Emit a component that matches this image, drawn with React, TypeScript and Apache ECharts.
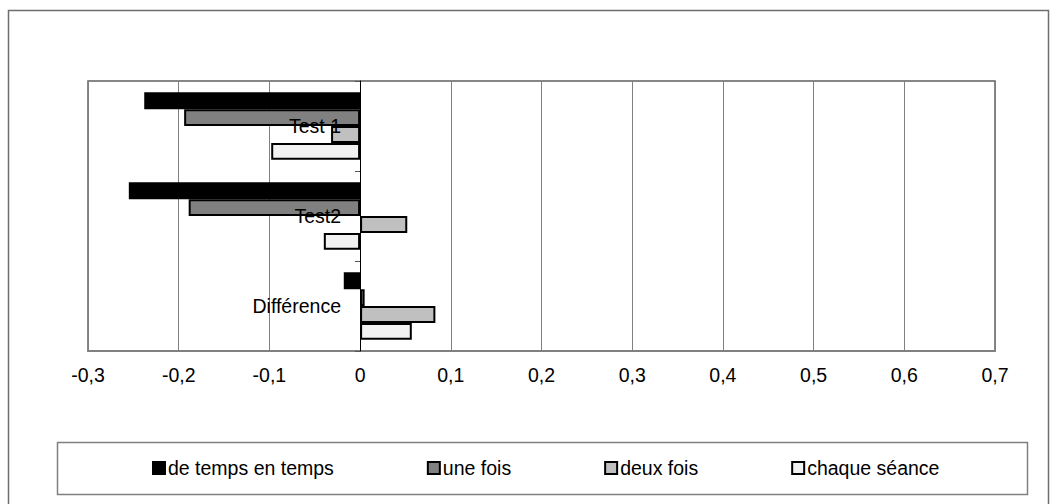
import React, { useEffect, useRef } from "react";
import * as echarts from "echarts";

const categories = ["Test 1", "Test2", "Différence"];
const seriesNames = ["de temps en temps", "une fois", "deux fois", "chaque séance"];
const deTempsEnTemps = [-0.238, -0.255, -0.018];
const uneFois = [-0.194, -0.189, 0.005];
const deuxFois = [-0.032, 0.052, 0.083];
const chaqueSeance = [-0.098, -0.04, 0.057];
const seriesValues = [deTempsEnTemps, uneFois, deuxFois, chaqueSeance];
const seriesColors = ["#000000", "#808080", "#c0c0c0", "#f2f2f2"];

const FONT = "'Liberation Sans', Arial, sans-serif";

export default function App() {
  const ref = useRef<HTMLDivElement>(null);
  useEffect(() => {
    if (!ref.current) return;
    const chart = echarts.init(ref.current, undefined, { renderer: "svg" });
    chart.setOption({
      animation: false,
      backgroundColor: "#ffffff",
      textStyle: { fontFamily: FONT },
      graphic: [
        {
          type: "rect",
          shape: { x: 8.5, y: 10.5, width: 1040, height: 520 },
          style: { fill: "none", stroke: "#6e6e6e", lineWidth: 1.5 },
          silent: true,
        },
        {
          type: "rect",
          shape: { x: 57.5, y: 442.5, width: 970, height: 52 },
          style: { fill: "none", stroke: "#808080", lineWidth: 1.5 },
          silent: true,
        },
      ],
      legend: {
        left: 152,
        top: 458,
        padding: 0,
        itemGap: 93,
        itemWidth: 12,
        itemHeight: 12,
        icon: "rect",
        textStyle: { fontSize: 19.5, color: "#000", fontFamily: FONT, padding: [0, 0, 0, -2] },
        data: seriesNames,
      },
      grid: {
        left: 88,
        right: 63,
        top: 81,
        bottom: 153,
        show: true,
        borderColor: "#606060",
        borderWidth: 1.5,
        containLabel: false,
        outerBoundsMode: "none",
      },
      xAxis: {
        type: "value",
        min: -0.3,
        max: 0.7,
        interval: 0.1,
        axisLine: { show: true, lineStyle: { color: "#808080", width: 2 } },
        axisTick: { show: false },
        splitLine: { show: true, lineStyle: { color: "#808080", width: 1 } },
        axisLabel: {
          color: "#000",
          fontSize: 19.5,
          fontFamily: FONT,
          margin: 14,
          formatter: (v: number) => String(Math.round(v * 10) / 10).replace(".", ","),
        },
      },
      yAxis: {
        type: "category",
        inverse: true,
        data: categories,
        z: 10,
        offset: -272,
        axisLine: { show: true, onZero: false, lineStyle: { color: "#000", width: 1 } },
        axisTick: { show: true, length: 5, lineStyle: { color: "#555" } },
        axisLabel: { color: "#000", fontSize: 19.5, fontFamily: FONT, margin: 19 },
        splitLine: { show: false },
      },
      series: seriesNames.map((name, i) => ({
        name,
        type: "bar",
        data: seriesValues[i],
        barGap: "0%",
        barCategoryGap: "25%",
        itemStyle: { color: seriesColors[i], borderColor: "#000", borderWidth: 2 },
      })),
    });
    return () => chart.dispose();
  }, []);
  return (
    <div
      ref={ref}
      style={{ position: "fixed", left: 0, top: 0, width: 1058, height: 504 }}
    />
  );
}
